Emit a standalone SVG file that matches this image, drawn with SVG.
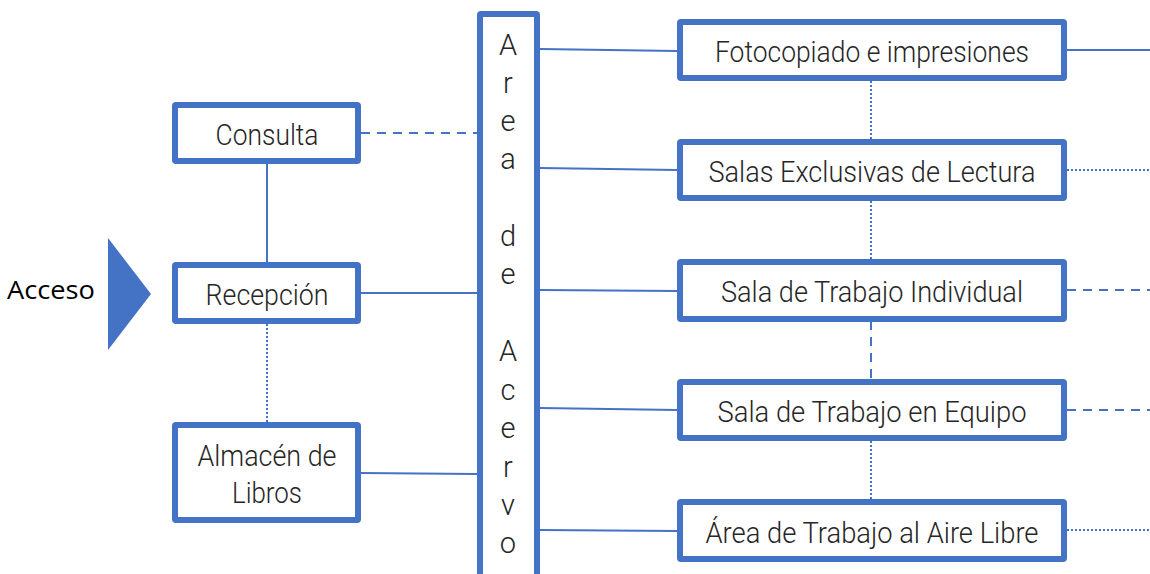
<svg xmlns="http://www.w3.org/2000/svg" width="1150" height="574" viewBox="0 0 1150 574">
<style>
.box{fill:#fff;stroke:#4472C4;stroke-width:6;stroke-linejoin:round}
.t{font-family:Roboto,"Liberation Sans",sans-serif;font-weight:300;font-size:29px;fill:#262626;text-anchor:middle}
.v{font-family:Roboto,"Liberation Sans",sans-serif;font-weight:300;font-size:29px;fill:#262626;text-anchor:middle}
.c{stroke:#4472C4;stroke-width:2;fill:none}
.dash{stroke-dasharray:9 7}
.dot{stroke-dasharray:2 2}
</style>
<rect width="1150" height="574" fill="#fff"/>
<g id="connectors">
<line class="c" x1="267" y1="164" x2="267" y2="262"/>
<line class="c dot" x1="267" y1="324" x2="267" y2="422"/>
<line class="c dash" x1="361" y1="133" x2="477" y2="133"/>
<line class="c" x1="361" y1="293" x2="477" y2="293"/>
<line class="c" x1="361" y1="473" x2="477" y2="474"/>
<line class="c" x1="540" y1="49" x2="677" y2="51"/>
<line class="c" x1="540" y1="168" x2="677" y2="170"/>
<line class="c" x1="540" y1="290" x2="677" y2="291"/>
<line class="c" x1="540" y1="408" x2="677" y2="410"/>
<line class="c" x1="540" y1="530" x2="677" y2="531"/>
<line class="c dot" x1="871" y1="81" x2="871" y2="140"/>
<line class="c dot" x1="871" y1="201" x2="871" y2="260"/>
<line class="c dash" x1="871" y1="321" x2="871" y2="380"/>
<line class="c dot" x1="871" y1="441" x2="871" y2="500"/>
<line class="c" x1="1067" y1="50" x2="1150" y2="50"/>
<line class="c dot" x1="1067" y1="170" x2="1150" y2="170"/>
<line class="c dash" x1="1067" y1="290" x2="1150" y2="290"/>
<line class="c dash" x1="1067" y1="410" x2="1150" y2="410"/>
<line class="c dot" x1="1067" y1="530" x2="1150" y2="530"/>
</g>
<g id="acceso">
<polygon points="108,238 151,294 108,350" fill="#4472C4"/>
<text x="51" y="299" font-family="'Open Sans','Liberation Sans',sans-serif" font-size="26" fill="#000" text-anchor="middle" textLength="88" lengthAdjust="spacingAndGlyphs">Acceso</text>
</g>
<g id="consulta">
<rect class="box" x="175" y="105" width="183" height="56" rx="1"/>
<text class="t" x="267" y="145" textLength="103" lengthAdjust="spacingAndGlyphs">Consulta</text>
</g>
<g id="recepcion">
<rect class="box" x="175" y="265" width="183" height="56" rx="1"/>
<text class="t" x="267" y="305" textLength="123" lengthAdjust="spacingAndGlyphs">Recepción</text>
</g>
<g id="almacen">
<rect class="box" x="175" y="425" width="183" height="95" rx="1"/>
<text class="t" x="267" y="466" textLength="139" lengthAdjust="spacingAndGlyphs">Almacén de</text>
<text class="t" x="267" y="503" textLength="70" lengthAdjust="spacingAndGlyphs">Libros</text>
</g>
<g id="acervo">
<rect class="box" x="480" y="14" width="57" height="600" rx="1"/>
<text class="v" x="508" y="55">A</text>
<text class="v" x="508" y="93">r</text>
<text class="v" x="508" y="131">e</text>
<text class="v" x="508" y="169">a</text>
<text class="v" x="508" y="246">d</text>
<text class="v" x="508" y="284">e</text>
<text class="v" x="508" y="361">A</text>
<text class="v" x="508" y="400">c</text>
<text class="v" x="508" y="438">e</text>
<text class="v" x="508" y="477">r</text>
<text class="v" x="508" y="515">v</text>
<text class="v" x="508" y="553">o</text>
</g>
<g id="fotocopiado">
<rect class="box" x="680" y="22" width="384" height="56" rx="1"/>
<text class="t" x="872" y="62" textLength="314" lengthAdjust="spacingAndGlyphs">Fotocopiado e impresiones</text>
</g>
<g id="salas">
<rect class="box" x="680" y="142" width="384" height="56" rx="1"/>
<text class="t" x="872" y="182" textLength="327" lengthAdjust="spacingAndGlyphs">Salas Exclusivas de Lectura</text>
</g>
<g id="individual">
<rect class="box" x="680" y="262" width="384" height="57" rx="1"/>
<text class="t" x="872" y="302" textLength="302" lengthAdjust="spacingAndGlyphs">Sala de Trabajo Individual</text>
</g>
<g id="equipo">
<rect class="box" x="680" y="382" width="384" height="56" rx="1"/>
<text class="t" x="872" y="422" textLength="309" lengthAdjust="spacingAndGlyphs">Sala de Trabajo en Equipo</text>
</g>
<g id="aire">
<rect class="box" x="680" y="502" width="384" height="57" rx="1"/>
<text class="t" x="872" y="543" textLength="333" lengthAdjust="spacingAndGlyphs">Área de Trabajo al Aire Libre</text>
</g>
</svg>
